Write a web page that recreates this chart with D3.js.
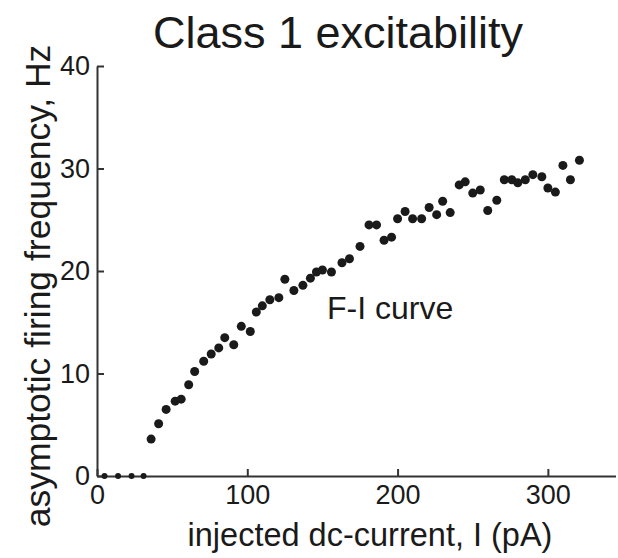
<!DOCTYPE html>
<html>
<head>
<meta charset="utf-8">
<script src="https://cdn.jsdelivr.net/npm/d3@7"></script>
<style>
  body { margin: 0; background: #fff; }
  text { font-family: "Liberation Sans", Arial, sans-serif; fill: #1a1a1a; }
</style>
</head>
<body>
<div id="chart"></div>
<script>
// Size of the picture
const width = 618;
const height = 558;

// Data: injected current (pA) and firing rate (Hz)
const current = [5, 14, 23, 31,
    36, 41, 46, 52, 56, 61, 65, 71, 76, 81, 85, 91, 96, 102, 106, 110,
    115, 121, 125, 131, 137, 142, 146, 150, 156, 163, 168, 175, 181, 186,
    191, 196, 200, 205, 210, 216, 221, 226, 230, 235, 241, 245, 250, 255,
    260, 266, 271, 276, 280, 285, 290, 296, 300, 305, 310, 315, 321];
const rate = [0, 0, 0, 0,
    3.6, 5.1, 6.5, 7.3, 7.5, 8.9, 10.2, 11.2, 11.9, 12.5, 13.5, 12.8, 14.6, 14.1, 16.0, 16.6,
    17.2, 17.4, 19.2, 18.1, 18.6, 19.3, 19.9, 20.1, 19.9, 20.8, 21.2, 22.4, 24.5, 24.5,
    23.0, 23.3, 25.1, 25.8, 25.1, 25.1, 26.2, 25.5, 26.8, 25.7, 28.4, 28.7, 27.6, 27.9,
    25.9, 26.9, 28.9, 28.9, 28.6, 28.9, 29.4, 29.2, 28.1, 27.7, 30.3, 28.9, 30.8];

const xTicks = [0, 100, 200, 300];
const yTicks = [0, 10, 20, 30, 40];

const title = "Class 1 excitability";
const xLabel = "injected dc-current, I (pA)";
const yLabel = "asymptotic firing frequency, Hz";
const note = "F-I curve";

const points = current.map((c, i) => ({ x: c, y: rate[i] }));

// Plot area
const x = d3.scaleLinear().domain([0, 345]).range([97, 615.5]);
const y = d3.scaleLinear().domain([0, 40]).range([476, 66]);

const svg = d3.select("#chart")
    .append("svg")
    .attr("width", width)
    .attr("height", height);

// Title
svg.append("text")
    .attr("x", 338)
    .attr("y", 48)
    .attr("text-anchor", "middle")
    .style("font-size", "45px")
    .text(title);

// Axes (ticks point inward, like matlab)
const xAxis = svg.append("g")
    .attr("transform", `translate(0,${y(0)})`)
    .call(d3.axisBottom(x).tickValues(xTicks).tickSizeInner(-7).tickSizeOuter(0).tickPadding(9));

const yAxis = svg.append("g")
    .attr("transform", `translate(${x(0)},0)`)
    .call(d3.axisLeft(y).tickValues(yTicks).tickSizeInner(-7).tickSizeOuter(0).tickPadding(7));

[xAxis, yAxis].forEach(g => {
    g.select(".domain").attr("stroke", "#333").attr("stroke-width", 2);
    g.selectAll(".tick line").attr("stroke", "#333").attr("stroke-width", 2);
    g.selectAll(".tick text")
        .style("font-size", "27px")
        .style("font-family", "'Liberation Sans', Arial, sans-serif")
        .attr("fill", "#1a1a1a");
});

// Axis labels
svg.append("text")
    .attr("x", 370)
    .attr("y", 546)
    .attr("text-anchor", "middle")
    .style("font-size", "32.5px")
    .text(xLabel);

svg.append("text")
    .attr("transform", "translate(50,286) rotate(-90)")
    .attr("text-anchor", "middle")
    .style("font-size", "35.5px")
    .text(yLabel);

// Annotation
svg.append("text")
    .attr("x", 327)
    .attr("y", 319)
    .style("font-size", "32px")
    .text(note);

// Data points
svg.selectAll(".dot")
    .data(points)
    .join("circle")
    .attr("class", "dot")
    .attr("cx", d => x(d.x))
    .attr("cy", d => y(d.y))
    .attr("r", d => d.y === 0 ? 3 : 4.5)
    .attr("fill", "#1a1a1a");
</script>
</body>
</html>
